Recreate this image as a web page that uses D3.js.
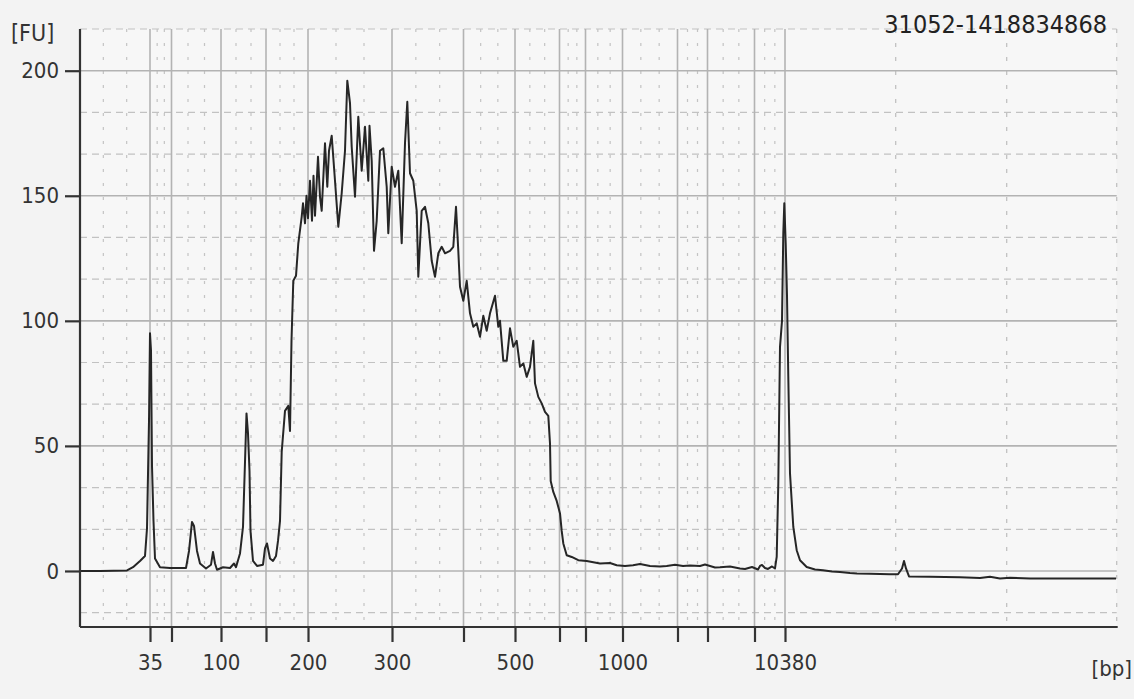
<!DOCTYPE html>
<html><head><meta charset="utf-8">
<script src="https://cdn.jsdelivr.net/npm/d3@7"></script>
<style>body{margin:0;background:#f3f3f3;} svg{display:block}</style>
</head><body><svg id="c" width="1134" height="699"></svg>
<script>
// Ladder: fragment size (bp) and its migration time (s)
const ladderBp   = [35, 50, 100, 150, 200, 300, 400, 500, 600, 700, 1000, 2000, 3000, 7000, 10380];
const ladderTime = [43.0, 45.15, 50.1, 54.6, 58.8, 67.2, 74.35, 79.5, 83.95, 86.55, 90.25, 95.75, 98.75, 103.45, 106.5];
const labeledBp  = [35, 100, 200, 300, 500, 1000, 10380];
const extraTimeGrid = [117.57, 128.67];
const yTicks = [0, 50, 100, 150, 200];
const sampleName = "31052-1418834868";

// Electropherogram trace: time (s) and fluorescence (FU)
const traceTime = [36.0,38.0,40.7,41.3,42.0,42.5,42.7,42.9,43.0,43.1,43.2,43.35,43.5,44.0,45.0,46.6,46.9,47.2,47.4,47.7,48.0,48.6,49.1,49.3,49.5,49.7,50.3,51.0,51.4,51.6,52.0,52.3,52.5,52.65,52.8,52.95,53.05,53.3,53.7,54.3,54.5,54.7,55.0,55.3,55.6,55.8,56.0,56.17,56.5,56.83,57.0,57.15,57.33,57.6,57.83,58.17,58.3,58.5,58.65,58.8,59.0,59.2,59.35,59.5,59.8,60.0,60.17,60.5,60.73,60.9,61.17,61.5,61.83,62.17,62.5,62.73,63.0,63.17,63.5,63.83,64.17,64.5,64.83,64.95,65.17,65.4,65.67,66.0,66.33,66.67,66.83,67.17,67.5,67.83,68.17,68.5,68.73,69.0,69.33,69.67,69.83,70.17,70.5,70.83,71.17,71.5,71.83,72.17,72.5,73.0,73.33,73.6,73.83,74.0,74.33,74.67,75.0,75.33,75.67,76.0,76.33,76.67,77.0,77.5,77.83,78.0,78.33,78.67,79.0,79.33,79.67,80.0,80.33,80.67,81.0,81.33,81.5,81.83,82.17,82.5,82.83,83.0,83.07,83.33,83.67,84.0,84.17,84.33,84.67,85.17,85.83,86.67,88.0,89.0,89.67,90.5,91.3,92.0,93.0,94.0,94.67,95.5,96.3,97.0,98.0,98.5,99.5,100.0,101.0,102.0,102.5,103.2,103.8,104.0,104.2,104.5,104.8,105.2,105.5,105.67,105.83,106.0,106.2,106.33,106.43,106.57,106.7,106.83,107.0,107.33,107.67,108.0,108.67,109.5,110.3,111.2,112.0,113.0,113.7,115.0,116.0,117.0,117.8,118.2,118.4,118.6,118.9,121.0,124.0,126.0,127.0,128.0,129.0,131.0,134.0,137.0,139.6];
const traceFU = [0,0,0.2,1.5,4,6,17,60,95,88,42,20,5,1.5,1.2,1.2,8,19.6,18,8,3,1,2.5,7.6,3,0.5,1.5,1.2,3,1.5,7,17.6,43.6,63,55,40,16,4,2,2.5,9,11,5,4,6,12,20,47.6,64,66,56,92,116,118,131,141.6,147,139,150,141,156,140,158,142,165.6,149.6,144,171,153.6,168,174,156,137.6,151,168,196,187,169.6,149.6,181.6,160,177.6,156,178,164,128,140,168,169,153.6,135,161.6,153.6,160,131,171,187.6,159,156,144,117.6,144,145.6,139,124,117.6,127,129.6,127,128,129.6,145.6,128,113.6,108,116,103,97.6,99,93.6,102,96,103,110,97.6,100,84,84,97,89.6,92,81.6,83,77.6,81.6,92,75,69.6,67,63.6,62,51,36,31.6,28,23,16,11,6.3,5.6,4.3,4,3,3.2,2.3,2.0,2.3,2.8,2,1.8,2,2.5,2,2.2,2,2.6,1.4,1.5,1.8,1,0.8,1.6,0.6,2,2.4,1.2,0.8,1.8,1,5.6,35,89.6,100,135,147,131,110,77.6,39,17.6,8.3,4.3,1.6,0.6,0.3,-0.2,-0.4,-0.8,-1,-1.1,-1.2,-1.3,-1.3,1,4,1,-2.2,-2.3,-2.5,-2.8,-2.3,-3,-2.7,-3,-3,-3,-3];

const svg = d3.select("#c");
const L = 80, R = 1116.7, T = 29, B = 627;
const x = d3.scaleLinear().domain([36, 139.67]).range([L, R]);
const y = d3.scaleLinear().domain([-22.4, 216.67]).range([B, T]);
const font = "'DejaVu Sans Condensed','DejaVu Sans',sans-serif";

svg.append("rect").attr("width",1134).attr("height",699).attr("fill","#f3f3f3");
svg.append("rect").attr("x",L).attr("y",T).attr("width",R-L).attr("height",B-T).attr("fill","#f7f7f7");

const grid = svg.append("g");
// minor horizontal dashed lines
const step = 50/3;
const minorY = d3.range(-1, 14).map(i => i*step).filter(v => Math.abs(v/50 - Math.round(v/50)) > 0.01);
grid.selectAll(".hm").data(minorY).join("line")
  .attr("x1",L).attr("x2",R).attr("y1",d=>y(d)).attr("y2",d=>y(d))
  .attr("stroke","#c2c2c2").attr("stroke-width",1.2).attr("stroke-dasharray","7,5");
// minor vertical dotted lines (thirds between ladder gridlines)
const bounds = [36].concat(ladderTime);
const minorX = [];
for (let i=0;i<bounds.length-1;i++){ const a=bounds[i], b=bounds[i+1]; minorX.push(a+(b-a)/3, a+2*(b-a)/3); }
grid.selectAll(".vm").data(minorX).join("line")
  .attr("x1",d=>x(d)).attr("x2",d=>x(d)).attr("y1",T).attr("y2",B)
  .attr("stroke","#c4c4c4").attr("stroke-width",1.2).attr("stroke-dasharray","3,11");
// dashed verticals beyond upper marker
grid.selectAll(".ve").data(extraTimeGrid.concat([139.67])).join("line")
  .attr("x1",d=>x(d)).attr("x2",d=>x(d)).attr("y1",T).attr("y2",B)
  .attr("stroke","#bdbdbd").attr("stroke-width",1.2).attr("stroke-dasharray","4,10");
// major horizontal
grid.selectAll(".hM").data(yTicks).join("line")
  .attr("x1",L).attr("x2",R).attr("y1",d=>y(d)).attr("y2",d=>y(d))
  .attr("stroke","#b3b3b3").attr("stroke-width",1.6);
// major vertical at ladder
grid.selectAll(".vM").data(ladderTime).join("line")
  .attr("x1",d=>x(d)).attr("x2",d=>x(d)).attr("y1",T).attr("y2",B)
  .attr("stroke","#b3b3b3").attr("stroke-width",1.6);

// trace
const pts = traceTime.map((t,i)=>[t, traceFU[i]]);
svg.append("path").datum(pts)
  .attr("d", d3.line().x(d=>x(d[0])).y(d=>y(d[1])))
  .attr("fill","none").attr("stroke","#262626").attr("stroke-width",2).attr("stroke-linejoin","round");

// axes
const xAxis = d3.axisBottom(x).tickValues(ladderTime).tickSize(15)
  .tickFormat(t => { const bp = ladderBp[ladderTime.indexOf(t)]; return labeledBp.includes(bp) ? bp : ""; });
const gx = svg.append("g").attr("transform",`translate(0,${B})`).call(xAxis);
gx.select(".domain").attr("d",`M${L},0H${R+1}`).attr("stroke","#333").attr("stroke-width",2.2);
gx.selectAll(".tick line").attr("stroke","#333").attr("stroke-width",2.2);
gx.selectAll(".tick text").attr("font-family",font).attr("font-size",22).attr("fill","#333").attr("dy",0).attr("y",43);

const yAxis = d3.axisLeft(y).tickValues(yTicks).tickSize(15).tickPadding(6);
const gy = svg.append("g").attr("transform",`translate(${L},0)`).call(yAxis);
gy.select(".domain").attr("d",`M0,${T}V${B}`).attr("stroke","#333").attr("stroke-width",2.2);
gy.selectAll(".tick line").attr("stroke","#333").attr("stroke-width",2.2);
gy.selectAll(".tick text").attr("font-family",font).attr("font-size",22).attr("fill","#333");

svg.append("text").attr("x",11).attr("y",41).text("[FU]")
  .attr("font-family",font).attr("font-size",23).attr("fill","#333");
svg.append("text").attr("x",1132).attr("y",676).attr("text-anchor","end").text("[bp]")
  .attr("font-family",font).attr("font-size",22).attr("fill","#333");
svg.append("text").attr("x",1107).attr("y",33).attr("text-anchor","end").text(sampleName)
  .attr("font-family",font).attr("font-size",25).attr("fill","#222");
</script></body></html>
